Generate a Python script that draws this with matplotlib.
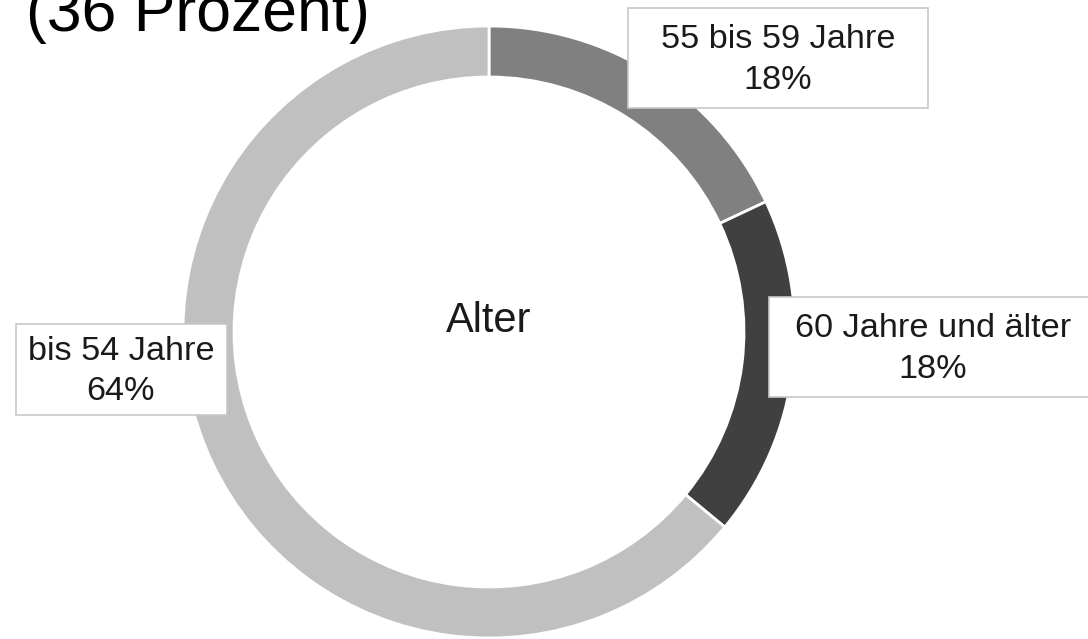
import matplotlib.pyplot as plt
from matplotlib.patches import Rectangle

plt.rcParams['font.family'] = ['Liberation Sans', 'DejaVu Sans']

# Data
categories = ['55 bis 59 Jahre', '60 Jahre und älter', 'bis 54 Jahre']
shares = [18, 18, 64]
colors = ['#808080', '#404040', '#c0c0c0']
center_label = 'Alter'
title_text = '(36 Prozent)'

# label boxes in pixel coords: (x0, y0, x1, y1), text centre x
boxes = [(628, 8, 928, 108, 778), (769, 297, 1100, 397, 933), (16, 324, 227, 415, 121)]

W, H = 1088, 639
fig = plt.figure(figsize=(W / 100, H / 100), dpi=100)
ax = fig.add_axes([0, 0, 1, 1])

# donut (y axis is flipped below, so counterclock=True draws clockwise)
ax.pie(shares, colors=colors, startangle=-90, counterclock=True,
       center=(489, 332), radius=306,
       wedgeprops=dict(width=51, edgecolor='white', linewidth=2))

ax.set_xlim(0, W)
ax.set_ylim(H, 0)
ax.set_aspect('auto')
ax.axis('off')

ax.text(489, 321, center_label, fontsize=30, ha='center', va='center', color='#1a1a1a')

for (x0, y0, x1, y1, cx), cat, val in zip(boxes, categories, shares):
    ax.add_patch(Rectangle((x0, y0), x1 - x0, y1 - y0, facecolor='white',
                           edgecolor='#c8c8c8', linewidth=1.2, zorder=3))
    ax.text(cx, (y0 + y1) / 2 + 2, f'{cat}\n{val}%', fontsize=24.7, ha='center',
            va='center', color='#1a1a1a', linespacing=1.4, zorder=4)

ax.text(26, 31, title_text, fontsize=45, ha='left', va='baseline', color='black')

fig.savefig('out.png', dpi=100)
